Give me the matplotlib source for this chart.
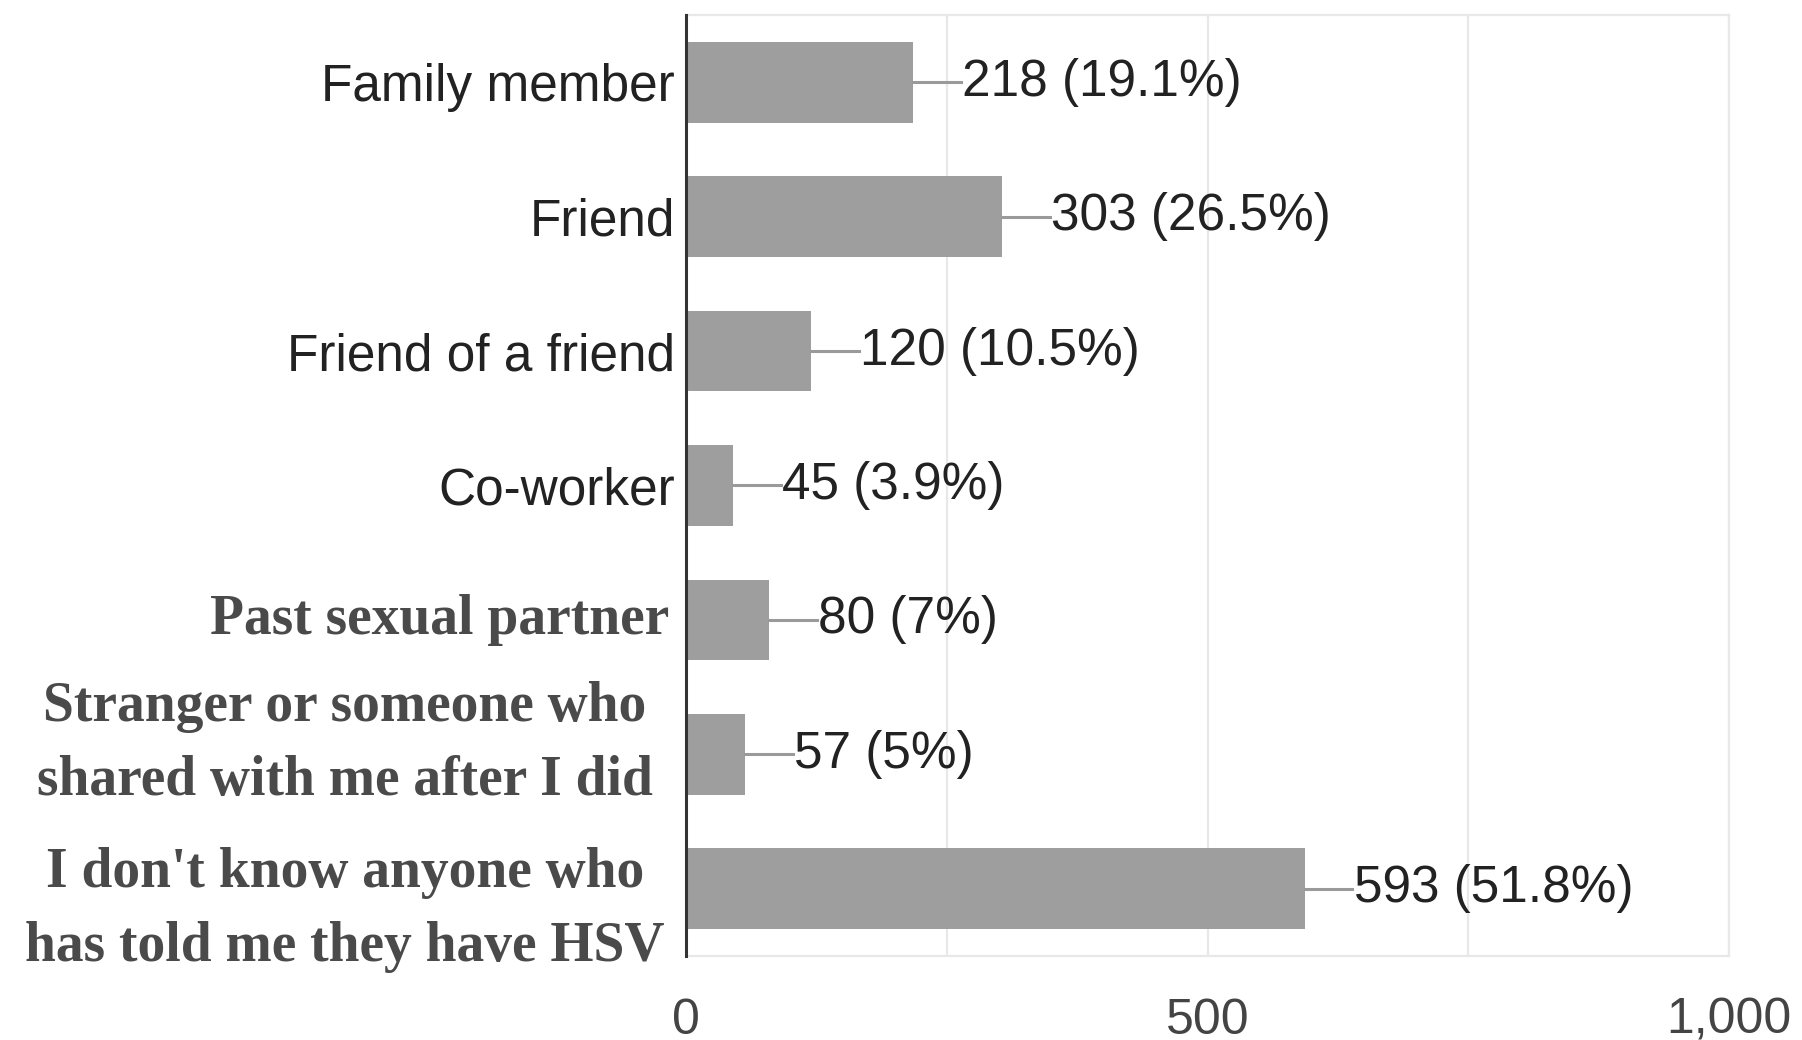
import matplotlib.pyplot as plt
from matplotlib.ticker import FuncFormatter

categories = [
    "Family member",
    "Friend",
    "Friend of a friend",
    "Co-worker",
    "Past sexual partner",
    "Stranger or someone who\nshared with me after I did",
    "I don't know anyone who\nhas told me they have HSV",
]
counts = [218, 303, 120, 45, 80, 57, 593]
percents = ["19.1%", "26.5%", "10.5%", "3.9%", "7%", "5%", "51.8%"]
sans_labels = categories[:4]
serif_labels = categories[4:]
x_ticks = [0, 500, 1000]
x_minor = [250, 750]

fig = plt.figure(figsize=(18.02, 10.40), dpi=100)
ax = fig.add_axes([0.3807, 0.0808, 0.5788, 0.9048])

y = list(range(len(categories)))
ax.barh(y, counts, height=0.6, color="#9e9e9e", zorder=2)

# leader line + value label
lead = 46
for yi, c, p in zip(y, counts, percents):
    ax.plot([c, c + lead], [yi, yi], color="#9a9a9a", lw=2.2, zorder=2)
    ax.text(c + lead + 1, yi, f"{c} ({p})", va="center", ha="left",
            fontsize=37, family="Liberation Sans", color="#222222")

ax.set_xlim(0, 1000)
ax.set_ylim(len(categories) - 0.5, -0.5)

ax.set_xticks(x_ticks)
ax.set_xticks(x_minor, minor=True)
ax.xaxis.set_major_formatter(FuncFormatter(lambda v, _: f"{v:,.0f}"))
ax.tick_params(axis="x", which="both", length=0, pad=30, labelsize=36,
               labelcolor="#444444")
for lab in ax.get_xticklabels():
    lab.set_family("Liberation Sans")
ax.grid(axis="x", which="both", color="#e8e8e8", lw=1.6, zorder=0)

ax.set_yticks(y[:4])
ax.set_yticklabels(sans_labels, fontsize=37, family="Liberation Sans",
                   color="#222222")
ax.tick_params(axis="y", length=0, pad=8)

# bold serif labels for the last three rows
ax.text(-0.016, 4, serif_labels[0], transform=ax.get_yaxis_transform(),
        ha="right", va="center", fontsize=40, fontweight="bold",
        family="Liberation Serif", color="#4a4a4a")
ax.text(-0.327, 4.92, serif_labels[1], transform=ax.get_yaxis_transform(),
        ha="center", va="center", multialignment="center", fontsize=40,
        fontweight="bold", family="Liberation Serif", color="#4a4a4a",
        linespacing=1.55)
ax.text(-0.327, 6.16, serif_labels[2], transform=ax.get_yaxis_transform(),
        ha="center", va="center", multialignment="center", fontsize=40,
        fontweight="bold", family="Liberation Serif", color="#4a4a4a",
        linespacing=1.55)

for side in ["top", "right", "bottom"]:
    ax.spines[side].set_color("#e8e8e8")
    ax.spines[side].set_linewidth(1.6)
ax.spines["left"].set_color("#333333")
ax.spines["left"].set_linewidth(2.2)
ax.spines["left"].set_zorder(3)

fig.savefig("out.png", dpi=100)
